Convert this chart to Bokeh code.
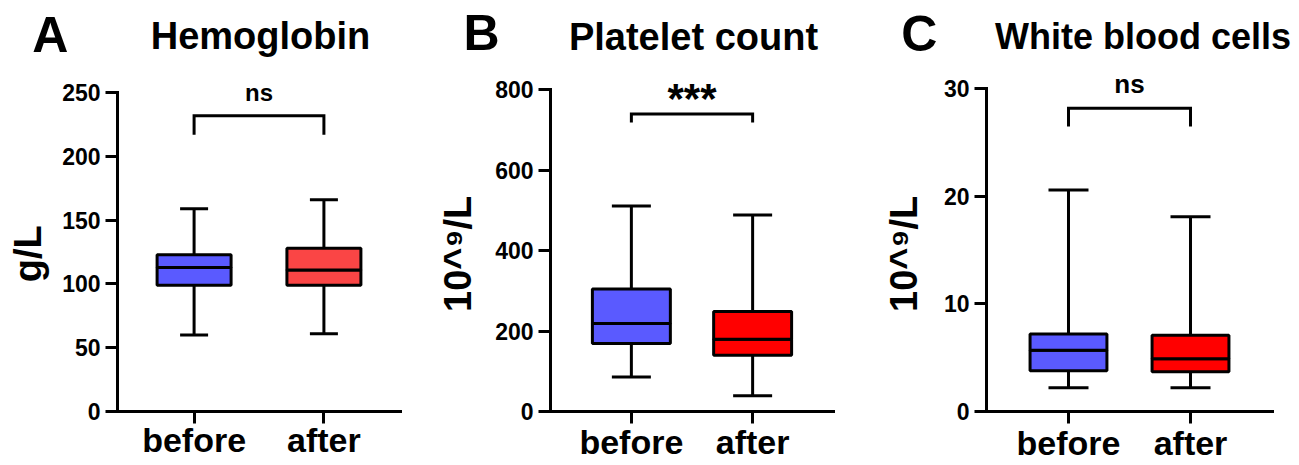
from bokeh.plotting import figure
from bokeh.models import (Range1d, FactorRange, Label, Whisker, TeeHead,
                          ColumnDataSource, FixedTicker)
from bokeh.layouts import row, column
from bokeh.embed import file_html
from bokeh.resources import INLINE

# ---------------- data ----------------
categories = ["before", "after"]

hgb_min = [60, 61]
hgb_q1 = [99, 99]
hgb_med = [113, 111]
hgb_q3 = [123, 128]
hgb_max = [159, 166]

plt_min = [86, 39]
plt_q1 = [169, 140]
plt_med = [219, 180]
plt_q3 = [305, 249]
plt_max = [511, 489]

wbc_min = [2.2, 2.2]
wbc_q1 = [3.8, 3.7]
wbc_med = [5.7, 4.9]
wbc_q3 = [7.2, 7.1]
wbc_max = [20.6, 18.1]

hgb_ticks = [0, 50, 100, 150, 200, 250]
plt_ticks = [0, 200, 400, 600, 800]
wbc_ticks = [0, 10, 20, 30]

panel_letters = ["A", "B", "C"]
panel_titles = ["Hemoglobin", "Platelet count", "White blood cells"]
y_labels = ["g/L", "10^\u2079/L", "10^\u2079/L"]
significance = ["ns", "***", "ns"]
bracket_top = [232, 740, 28.2]
bracket_bottom = [217, 719, 26.5]
sig_y = [250.5, 778, 30.5]

colors_a = ["#5a5aff", "#fa4545"]
colors_bc = ["#5a5aff", "#ff0000"]

FONT = "Liberation Sans"
HEADER_H = 64
PLOT_H = 400
NBSP = "\u00a0"


def panel(ylabel, ticks, mins, q1, med, q3, maxs, colors, sig, btop, bbot, sy, st):
    x_range = FactorRange(factors=categories, range_padding=st["pad"],
                          range_padding_units="absolute")
    p = figure(x_range=x_range, y_range=Range1d(0, st["y_end"]),
               width=st["width"], height=PLOT_H,
               min_border_left=st["left"], min_border_right=st["right"],
               min_border_top=0, min_border_bottom=0,
               output_backend="svg", toolbar_location=None, title=None)
    p.outline_line_color = None
    p.xgrid.visible = False
    p.ygrid.visible = False
    p.background_fill_color = "white"
    p.border_fill_color = "white"

    for ax in (p.xaxis[0], p.yaxis[0]):
        ax.axis_line_width = 3
        ax.axis_line_color = "black"
        ax.axis_line_cap = "square"
        ax.major_tick_line_width = 3
        ax.major_tick_line_color = "black"
        ax.major_tick_out = 12
        ax.major_tick_in = 0
        ax.minor_tick_out = 0
        ax.minor_tick_in = 0
        ax.major_label_text_font = FONT
        ax.major_label_text_font_style = "bold"
        ax.major_label_text_color = "black"

    p.xaxis.major_label_text_font_size = "34px"
    p.xaxis.major_label_standoff = st["x_standoff"]

    p.yaxis.bounds = (0, ticks[-1])
    p.yaxis.ticker = FixedTicker(ticks=ticks)
    p.yaxis.major_label_text_font_size = "23px"
    p.yaxis.major_label_standoff = 5
    # trailing no-break spaces re-centre the label on the drawn axis span
    p.yaxis.axis_label = ylabel + NBSP * st["label_pad"]
    p.yaxis.axis_label_text_font = FONT
    p.yaxis.axis_label_text_font_style = "bold"
    p.yaxis.axis_label_text_font_size = "38px"
    p.yaxis.axis_label_text_color = "black"
    p.yaxis.axis_label_standoff = st["ylab_standoff"]

    src = ColumnDataSource(dict(cat=categories, lo=mins, q1=q1, med=med,
                                q3=q3, hi=maxs, color=colors))

    w = Whisker(base="cat", lower="lo", upper="hi", source=src,
                line_width=3, line_color="black", level="underlay",
                upper_head=TeeHead(size=st["cap"], line_width=3, line_color="black"),
                lower_head=TeeHead(size=st["cap"], line_width=3, line_color="black"))
    p.add_layout(w)

    p.vbar(x="cat", bottom="q1", top="med", width=st["box_w"], source=src,
           fill_color="color", line_color="black", line_width=3)
    p.vbar(x="cat", bottom="med", top="q3", width=st["box_w"], source=src,
           fill_color="color", line_color="black", line_width=3)

    p.multi_line(xs=[[categories[0], categories[0], categories[1], categories[1]]],
                 ys=[[bbot, btop, btop, bbot]],
                 line_width=3, line_color="black", line_join="miter")

    p.add_layout(Label(x=1.0, y=sy, text=sig, text_align="center",
                       text_baseline="middle", text_font=FONT,
                       text_font_style="bold", text_font_size=st["sig_size"],
                       text_color="black"))
    return p


pa = panel(y_labels[0], hgb_ticks, hgb_min, hgb_q1, hgb_med, hgb_q3, hgb_max,
           colors_a, significance[0], bracket_top[0], bracket_bottom[0], sig_y[0],
           dict(width=434, left=117, right=34, pad=0.09, box_w=0.57, cap=28,
                y_end=272.1, x_standoff=-3, ylab_standoff=10, sig_size="24px",
                label_pad=3))

pb = panel(y_labels[1], plt_ticks, plt_min, plt_q1, plt_med, plt_q3, plt_max,
           colors_bc, significance[1], bracket_top[1], bracket_bottom[1], sig_y[1],
           dict(width=434, left=115, right=35, pad=0.167, box_w=0.643, cap=39,
                y_end=863.1, x_standoff=-1, ylab_standoff=13, sig_size="42px",
                label_pad=3))

pc = panel(y_labels[2], wbc_ticks, wbc_min, wbc_q1, wbc_med, wbc_q3, wbc_max,
           colors_bc, significance[2], bracket_top[2], bracket_bottom[2], sig_y[2],
           dict(width=430, left=118, right=26, pad=0.172, box_w=0.63, cap=40,
                y_end=32.27, x_standoff=0, ylab_standoff=16, sig_size="26px",
                label_pad=3))

# header strip with panel letters and titles
header = figure(width=1298, height=HEADER_H, x_range=Range1d(0, 1298),
                y_range=Range1d(HEADER_H, 0), x_axis_type=None, y_axis_type=None,
                min_border=0, output_backend="svg", toolbar_location=None,
                title=None)
header.outline_line_color = None
header.xgrid.visible = False
header.ygrid.visible = False

letter_pos = [(31.7, 34.2), (463.0, 32.5), (900.8, 33.5)]
title_pos = [(260.0, 35.0), (693.0, 36.7), (1142.5, 35.7)]
title_sizes = ["38px", "38px", "36px"]

for (lx, ly), (tx, ty), letter, title, tsize in zip(letter_pos, title_pos,
                                                    panel_letters, panel_titles,
                                                    title_sizes):
    header.add_layout(Label(x=lx, y=ly, text=letter, text_align="left",
                            text_baseline="middle", text_font=FONT,
                            text_font_style="bold", text_font_size="50px",
                            text_color="black"))
    header.add_layout(Label(x=tx, y=ty, text=title, text_align="center",
                            text_baseline="middle", text_font=FONT,
                            text_font_style="bold", text_font_size=tsize,
                            text_color="black"))

layout = column(header, row(pa, pb, pc))

with open("out.html", "w") as f:
    f.write(file_html(layout, INLINE))
